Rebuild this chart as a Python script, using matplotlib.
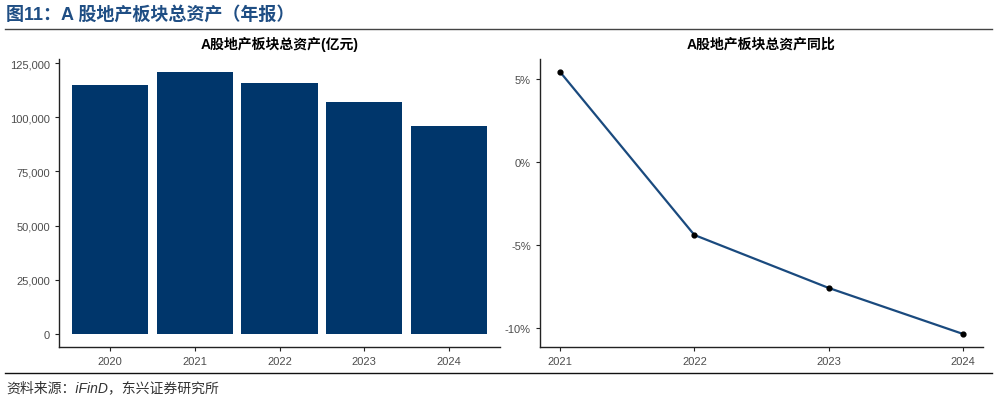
import numpy as np
import matplotlib.pyplot as plt
from matplotlib.lines import Line2D
from matplotlib.ticker import FuncFormatter

# data
years = ['2020', '2021', '2022', '2023', '2024']
total_assets = [114800, 120900, 115800, 107000, 95900]   # 亿元
yoy_years = [2021, 2022, 2023, 2024]
yoy_pct = [5.42, -4.40, -7.59, -10.36]                   # %

NAVY = '#00366b'
LINE = '#1a4a7e'
GREY = '#4d4d4d'
FONTS = ['Liberation Sans', 'Noto Sans CJK SC', 'DejaVu Sans']


def style_axis(ax):
    for s in ['top', 'right']:
        ax.spines[s].set_visible(False)
    for s in ['left', 'bottom']:
        ax.spines[s].set_color('#222222')
        ax.spines[s].set_linewidth(1.0)
    ax.tick_params(colors='#222222', labelcolor=GREY, labelsize=8, length=3, width=0.8)


def main():
    plt.rcParams['font.family'] = FONTS
    fig = plt.figure(figsize=(9.97, 4.02), dpi=100)

    fig.text(0.006, 0.962, '图11：A 股地产板块总资产（年报）', fontsize=13, fontweight='bold',
             color='#1f4e84', va='center', ha='left')
    fig.add_artist(Line2D([0.005, 0.995], [0.925, 0.925], color='#444444', lw=1.0))
    fig.add_artist(Line2D([0.005, 0.995], [0.07, 0.07], color='#111111', lw=1.0))
    fig.text(0.006, 0.035, '资料来源：iFinD，东兴证券研究所', fontsize=10, style='italic',
             color='#333333', va='center', ha='left')

    # left: bar chart
    ax1 = fig.add_axes([0.0592, 0.1343, 0.4423, 0.7167])
    x = np.arange(len(years))
    ax1.bar(x, total_assets, width=0.9, color=NAVY)
    ax1.set_xticks(x)
    ax1.set_xticklabels(years)
    ax1.set_xlim(-0.6, len(years) - 0.4)
    top = max(total_assets)
    ax1.set_ylim(-top * 0.05, top * 1.05)
    ax1.set_yticks(np.arange(0, 125001, 25000))
    ax1.yaxis.set_major_formatter(FuncFormatter(lambda v, p: f'{int(v):,}'))
    style_axis(ax1)
    ax1.set_title('A股地产板块总资产(亿元)', fontsize=10, fontweight='bold', pad=8)

    # right: yoy line
    ax2 = fig.add_axes([0.5416, 0.1343, 0.4444, 0.7167])
    ax2.plot(yoy_years, yoy_pct, color=LINE, lw=1.6, zorder=2)
    ax2.scatter(yoy_years, yoy_pct, color='black', s=12, zorder=3)
    ax2.set_xticks(yoy_years)
    ax2.set_xlim(2021 - 0.15, 2024 + 0.15)
    lo, hi = min(yoy_pct), max(yoy_pct)
    pad = (hi - lo) * 0.05
    ax2.set_ylim(lo - pad, hi + pad)
    ax2.set_yticks([-10, -5, 0, 5])
    ax2.yaxis.set_major_formatter(FuncFormatter(lambda v, p: f'{int(v)}%'))
    style_axis(ax2)
    ax2.set_title('A股地产板块总资产同比', fontsize=10, fontweight='bold', pad=8)

    fig.savefig('out.png', dpi=100)


if __name__ == '__main__':
    main()
